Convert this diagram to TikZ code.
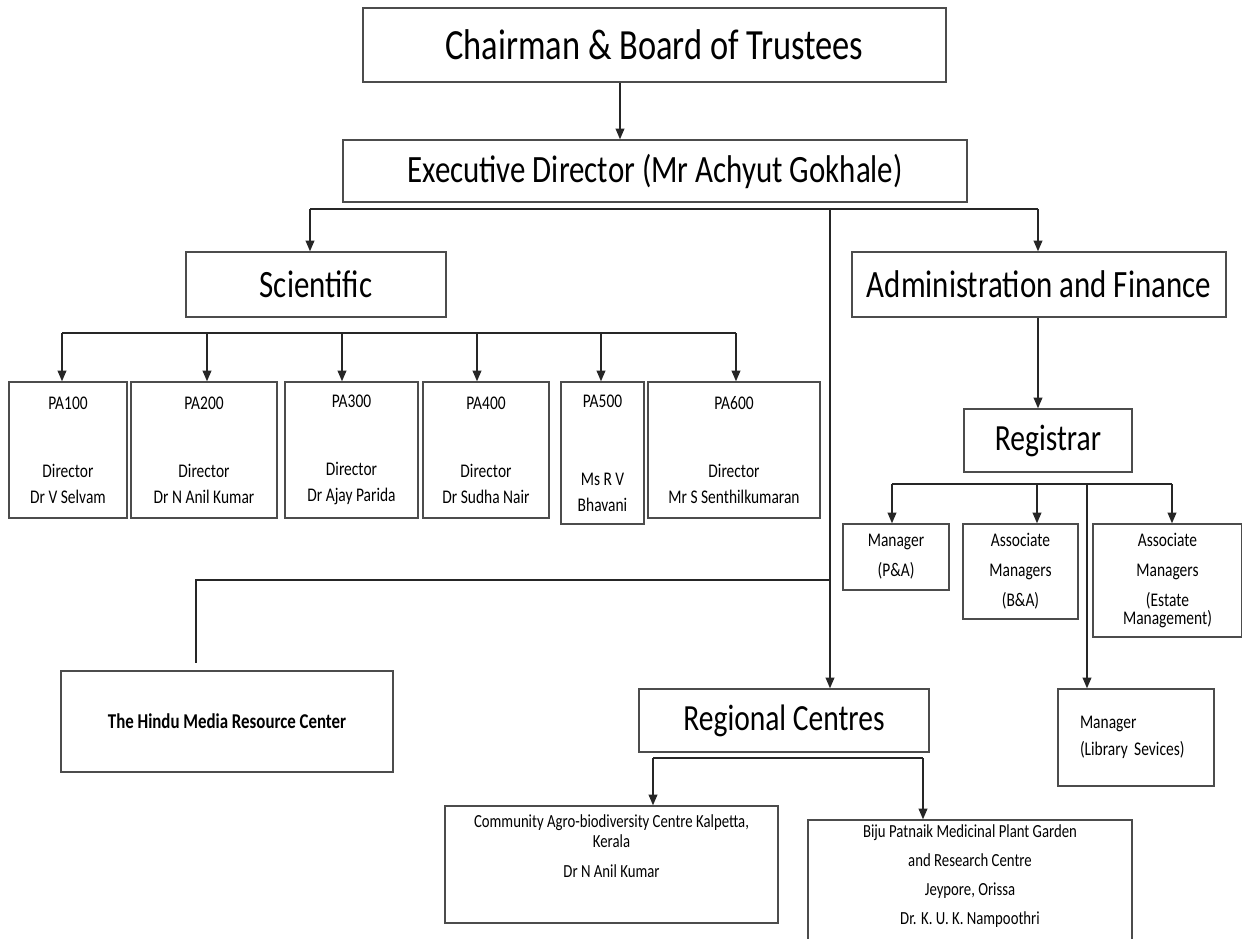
\documentclass[tikz,border=0pt]{standalone}
\usepackage{fontspec}
\setmainfont[FakeStretch=0.8]{Carlito}
\usetikzlibrary{arrows.meta}
\begin{document}
\begin{tikzpicture}[x=0.02cm,y=-0.02cm,
  box/.style={draw=black!70,line width=0.9pt,align=center,inner sep=0pt},
  big/.style={font=\fontsize{22}{26}\selectfont},
  small/.style={font=\fontsize{11}{14.8}\selectfont},
  mgr/.style={font=\fontsize{11}{17}\selectfont},
  tiny/.style={font=\fontsize{10.5}{11.4}\selectfont},
  link/.style={black!85,line width=0.6pt},
  arr/.style={-{Triangle[length=6pt,width=5pt]}}]
\useasboundingbox (0,0) rectangle (1242,938);
\node[box,font=\fontsize{24.5}{29}\selectfont,minimum width=11.66cm,minimum height=1.48cm] (chair) at (654.5,45) {Chairman \& Board of Trustees};
\node[box,big,minimum width=12.48cm,minimum height=1.24cm] (exec) at (655,171) {Executive Director (Mr Achyut Gokhale)};
\node[box,big,minimum width=5.2cm,minimum height=1.3cm] (sci) at (316,284.5) {Scientific};
\node[box,big,minimum width=7.48cm,minimum height=1.3cm] (admin) at (1039,284.5) {Administration and Finance};
\node[box,small,minimum width=2.36cm,minimum height=2.72cm] (pa1) at (68,450) {PA100\\[24pt]Director\\Dr V Selvam};
\node[box,small,minimum width=2.92cm,minimum height=2.72cm] (pa2) at (204,450) {PA200\\[24pt]Director\\Dr N Anil Kumar};
\node[box,small,minimum width=2.66cm,minimum height=2.72cm] (pa3) at (351.5,450) {PA300\\[24pt]Director\\Dr Ajay Parida};
\node[box,small,minimum width=2.52cm,minimum height=2.72cm] (pa4) at (486,450) {PA400\\[24pt]Director\\Dr Sudha Nair};
\node[box,small,minimum width=1.66cm,minimum height=2.84cm] (pa5) at (602.5,453) {PA500\\[29.6pt]Ms R V\\Bhavani};
\node[box,small,minimum width=3.44cm,minimum height=2.72cm] (pa6) at (734,450) {PA600\\[24pt]Director\\Mr S Senthilkumaran};
\node[box,font=\fontsize{21}{25}\selectfont,minimum width=3.36cm,minimum height=1.26cm] (registrar) at (1048,440.5) {Registrar};
\node[box,mgr,minimum width=2.12cm,minimum height=1.32cm] (pam) at (896,557) {Manager\\(P\&A)};
\node[box,mgr,minimum width=2.3cm,minimum height=1.9cm] (bam) at (1020.5,571.5) {Associate\\Managers\\(B\&A)};
\node[box,mgr,minimum width=2.98cm,minimum height=2.26cm] (estm) at (1167.5,580.5) {Associate\\Managers\\(Estate\\[-7pt]Management)};
\node[box,font=\fontsize{11}{15.4}\selectfont,align=left,text width=2.24cm,minimum width=3.12cm,minimum height=1.94cm] (lib) at (1136,737.5) {Manager\\(Library Sevices)};
\node[box,font=\bfseries\fontsize{12}{14}\selectfont,minimum width=6.64cm,minimum height=2.02cm] (hindu) at (227,721.5) {The Hindu Media Resource Center};
\node[box,font=\fontsize{21}{25}\selectfont,minimum width=5.8cm,minimum height=1.26cm] (regc) at (784,720.5) {Regional Centres};
\node[box,minimum width=6.66cm,minimum height=2.34cm] (cab) at (611.5,864.5) {};
\node[tiny,align=center,anchor=north,inner sep=0pt,yshift=-5pt] (cabtext) at (cab.north) {Community Agro-biodiversity Centre Kalpetta,\\Kerala\\[5.7pt]Dr N Anil Kumar};
\node[box,minimum width=6.48cm,minimum height=2.6cm] (biju) at (970,885) {};
\node[font=\fontsize{10.5}{16.5}\selectfont,align=center,anchor=north,inner sep=0pt,yshift=-3pt] (bijutext) at (biju.north) {Biju Patnaik Medicinal Plant Garden\\and Research Centre\\Jeypore, Orissa\\Dr. K. U. K. Nampoothri};
\draw[link,arr] (chair.south -| 620,0) -- (exec.north -| 620,0);
\draw[link] (310,209) -- (1038,209);
\draw[link,arr] (310,209) -- (sci.north -| 310,0);
\draw[link,arr] (1038,209) -- (admin.north -| 1038,0);
\draw[link,arr] (830,209) -- (regc.north -| 830,0);
\draw[link] (830,580) -- (196,580) -- (196,663);
\draw[link] (62,333) -- (736,333);
\foreach \px/\n in {62/pa1,207/pa2,342/pa3,477/pa4,601/pa5,736/pa6}
  \draw[link,arr] (\px,333) -- (\n.north -| \px,0);
\draw[link,arr] (admin.south -| 1038,0) -- (registrar.north -| 1038,0);
\draw[link] (892,484) -- (1172,484);
\foreach \px/\n in {892/pam,1037/bam,1172/estm,1087/lib}
  \draw[link,arr] (\px,484) -- (\n.north -| \px,0);
\draw[link] (653,758) -- (923,758);
\draw[link,arr] (653,758) -- (cab.north -| 653,0);
\draw[link,arr] (923,758) -- (biju.north -| 923,0);
\end{tikzpicture}
\end{document}
